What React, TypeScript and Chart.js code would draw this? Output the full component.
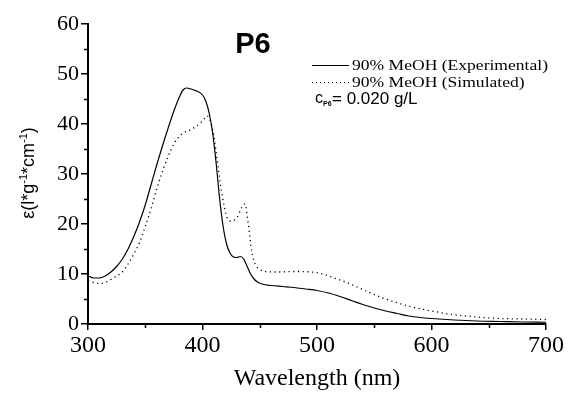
import React, { useEffect, useRef } from "react";
import { Chart, registerables } from "chart.js";

Chart.register(...registerables);

const expWavelength = [300, 305, 310, 315, 320, 325, 330, 335, 340, 345, 350, 355, 360, 365, 370, 375, 380, 383, 386, 390, 395, 400, 403, 406, 409, 412, 415, 418, 421, 424, 427, 430, 433, 436, 439, 442, 445, 448, 452, 460, 470, 480, 490, 500, 510, 520, 530, 540, 550, 560, 570, 580, 590, 600, 620, 640, 660, 680, 700];
const expValues = [9.6, 9.2, 9.2, 9.6, 10.4, 11.5, 13.0, 15.0, 17.5, 20.4, 23.8, 27.8, 31.8, 35.6, 39.2, 42.6, 45.5, 46.8, 47.2, 47.0, 46.6, 45.8, 44.5, 42.0, 38.0, 32.0, 25.0, 19.5, 16.0, 14.2, 13.4, 13.3, 13.5, 13.0, 11.5, 10.0, 9.0, 8.4, 8.0, 7.7, 7.5, 7.3, 7.0, 6.7, 6.2, 5.5, 4.7, 3.9, 3.2, 2.6, 2.1, 1.6, 1.3, 1.1, 0.8, 0.6, 0.5, 0.4, 0.35];

const simWavelength = [300, 305, 310, 315, 320, 325, 330, 335, 340, 345, 350, 355, 360, 365, 370, 375, 380, 385, 390, 395, 400, 404, 407, 410, 413, 416, 419, 422, 425, 428, 431, 434, 437, 440, 443, 446, 450, 455, 465, 480, 495, 505, 515, 525, 535, 545, 555, 565, 575, 585, 595, 605, 615, 630, 645, 660, 680, 700];
const simValues = [8.6, 8.3, 8.1, 8.3, 8.9, 9.6, 10.4, 12.0, 14.0, 16.3, 19.5, 23.0, 27.0, 30.5, 33.5, 36.0, 37.6, 38.4, 38.9, 39.6, 40.6, 41.6, 40.5, 37.5, 32.5, 27.5, 23.5, 21.0, 20.6, 20.8, 21.6, 23.2, 24.0, 20.0, 14.5, 12.0, 10.9, 10.5, 10.4, 10.5, 10.4, 10.0, 9.2, 8.4, 7.4, 6.4, 5.4, 4.6, 3.9, 3.3, 2.8, 2.4, 2.0, 1.6, 1.3, 1.1, 1.0, 0.9];

const seriesLabels = ["90% MeOH (Experimental)", "90% MeOH (Simulated)"];
const xTicksMinor = [350, 450, 550, 650];
const yTicksMinor = [5, 15, 25, 35, 45, 55];
const sampleName = "P6";
const concentrationText = "= 0.020 g/L";
const xTitle = "Wavelength (nm)";

const decorPlugin = {
  id: "decor",
  afterDraw(chart: any) {
    const ctx = chart.ctx as CanvasRenderingContext2D;
    const xs = chart.scales.x;
    const ys = chart.scales.y;
    ctx.save();
    ctx.strokeStyle = "#000";
    ctx.fillStyle = "#000";
    // minor ticks
    ctx.lineWidth = 1.5;
    const bottom = ys.getPixelForValue(0);
    const left = xs.getPixelForValue(300);
    xTicksMinor.forEach((v) => {
      const px = Math.round(xs.getPixelForValue(v)) + 0.5;
      ctx.beginPath();
      ctx.moveTo(px, bottom);
      ctx.lineTo(px, bottom + 4);
      ctx.stroke();
    });
    yTicksMinor.forEach((v) => {
      const py = Math.round(ys.getPixelForValue(v)) + 0.5;
      ctx.beginPath();
      ctx.moveTo(left, py);
      ctx.lineTo(left - 4, py);
      ctx.stroke();
    });

    // y title with superscripts
    ctx.save();
    ctx.translate(28, 173);
    ctx.rotate(-Math.PI / 2);
    const big = "18px 'Liberation Sans', Arial, sans-serif";
    const small = "11px 'Liberation Sans', Arial, sans-serif";
    const parts: [string, boolean][] = [["ε(l*g", false], ["-1", true], ["*cm", false], ["-1", true], [")", false]];
    let total = 0;
    parts.forEach(([t, sup]) => {
      ctx.font = sup ? small : big;
      total += ctx.measureText(t).width;
    });
    let cx = -total / 2;
    ctx.textBaseline = "alphabetic";
    parts.forEach(([t, sup]) => {
      ctx.font = sup ? small : big;
      ctx.fillText(t, cx, sup ? -1 : 6);
      cx += ctx.measureText(t).width;
    });
    ctx.restore();

    // sample name
    ctx.font = "bold 29px 'Liberation Sans', Arial, sans-serif";
    ctx.textAlign = "center";
    ctx.textBaseline = "middle";
    ctx.fillText(sampleName, 253, 45);

    // legend
    ctx.lineWidth = 1;
    ctx.beginPath();
    ctx.moveTo(312, 65.5);
    ctx.lineTo(349, 65.5);
    ctx.stroke();
    ctx.save();
    ctx.lineWidth = 1.2;
    ctx.setLineDash([1, 3]);
    ctx.beginPath();
    ctx.moveTo(312, 82.5);
    ctx.lineTo(349, 82.5);
    ctx.stroke();
    ctx.restore();

    ctx.textAlign = "left";
    ctx.textBaseline = "alphabetic";
    ctx.font = "14px 'Liberation Serif', 'Times New Roman', serif";
    const w0 = ctx.measureText(seriesLabels[0]).width;
    const sx = 196 / w0;
    [[seriesLabels[0], 70], [seriesLabels[1], 87]].forEach(([t, y]) => {
      ctx.save();
      ctx.translate(352, y as number);
      ctx.scale(sx, 1);
      ctx.fillText(t as string, 0, 0);
      ctx.restore();
    });

    // concentration
    ctx.font = "16px 'Liberation Sans', Arial, sans-serif";
    ctx.fillText("c", 315, 103);
    ctx.font = "bold 7px 'Liberation Sans', Arial, sans-serif";
    ctx.fillText("P6", 323, 106);
    ctx.font = "17px 'Liberation Sans', Arial, sans-serif";
    ctx.fillText(concentrationText, 332, 104);
    ctx.restore();
  },
};

export default function App() {
  const ref = useRef<HTMLCanvasElement | null>(null);
  useEffect(() => {
    if (!ref.current) return;
    const chart = new Chart(ref.current, {
      type: "line",
      data: {
        datasets: [
          {
            label: seriesLabels[0],
            data: expWavelength.map((x, i) => ({ x, y: expValues[i] })),
            borderColor: "#000",
            borderWidth: 1.2,
            pointRadius: 0,
            cubicInterpolationMode: "monotone",
            fill: false,
          },
          {
            label: seriesLabels[1],
            data: simWavelength.map((x, i) => ({ x, y: simValues[i] })),
            borderColor: "#000",
            borderWidth: 1.3,
            borderDash: [1.2, 3.5],
            pointRadius: 0,
            cubicInterpolationMode: "monotone",
            fill: false,
          },
        ],
      },
      options: {
        animation: false,
        responsive: false,
        layout: { padding: { left: 0, right: 23, top: 24, bottom: 0 } },
        plugins: { legend: { display: false }, tooltip: { enabled: false } },
        scales: {
          x: {
            type: "linear",
            min: 300,
            max: 700,
            afterFit: (s: any) => {
              s.height = 69;
            },
            ticks: {
              stepSize: 100,
              color: "#000",
              padding: 1,
              maxRotation: 0,
              font: { family: "'Liberation Serif', 'Times New Roman', serif", size: 24 },
            },
            grid: { drawOnChartArea: false, drawTicks: true, tickLength: 6, color: "#000", lineWidth: 1.5 },
            border: { display: true, color: "#000", width: 2 },
            title: {
              display: true,
              text: xTitle,
              color: "#000",
              padding: { top: 6, bottom: 0 },
              font: { family: "'Liberation Serif', 'Times New Roman', serif", size: 24 },
            },
          },
          y: {
            type: "linear",
            min: 0,
            max: 60,
            afterFit: (s: any) => {
              s.width = 88;
            },
            ticks: {
              stepSize: 10,
              color: "#000",
              padding: 2,
              font: { family: "'Liberation Serif', 'Times New Roman', serif", size: 22 },
            },
            grid: { drawOnChartArea: false, drawTicks: true, tickLength: 7, color: "#000", lineWidth: 1.5 },
            border: { display: true, color: "#000", width: 2 },
          },
        },
      },
      plugins: [decorPlugin],
    });
    return () => chart.destroy();
  }, []);
  return (
    <div style={{ position: "fixed", left: 0, top: 0, width: 569, height: 393, background: "#fff" }}>
      <canvas ref={ref} width={569} height={393} style={{ width: 569, height: 393, display: "block" }} />
    </div>
  );
}
